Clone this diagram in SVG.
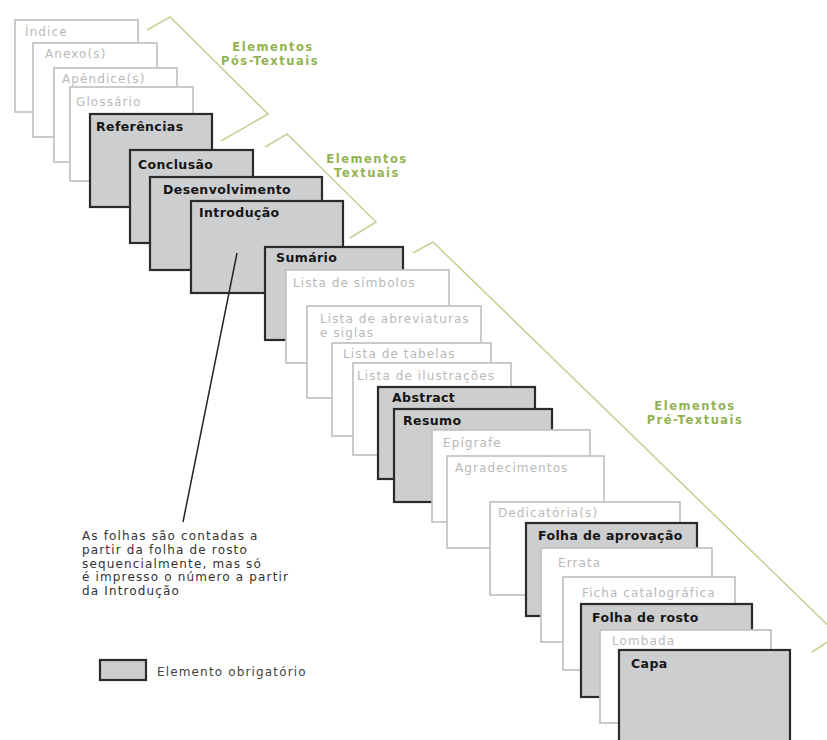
<svg xmlns="http://www.w3.org/2000/svg" width="827" height="740" viewBox="0 0 827 740">
<style>
.w rect{fill:#ffffff;stroke:#c2c2c2;stroke-width:1.7}
.g rect{fill:#cdcecf;stroke:#2b2b2b;stroke-width:2.2}
.w text{font-family:"DejaVu Sans",sans-serif;font-size:12px;letter-spacing:1.1px;fill:#b9b9b9}
.g text{font-family:"DejaVu Sans",sans-serif;font-size:12.5px;font-weight:bold;letter-spacing:0.4px;fill:#151515}
.br{fill:none;stroke:#c3d398;stroke-width:1.6}
.gl{font-family:"DejaVu Sans",sans-serif;font-size:11.5px;font-weight:bold;letter-spacing:1.5px;fill:#92b352;text-anchor:middle}
.note{font-family:"DejaVu Sans",sans-serif;font-size:12px;letter-spacing:1.15px;fill:#333333}
</style>
<rect width="827" height="740" fill="#ffffff"/>
<g id="brackets">
<polyline class="br" points="147,30 170,17 268,114 221,141"/>
<polyline class="br" points="265,147 287,134 376,222 350,238"/>
<polyline class="br" points="413,253 433,242 838,635 812,652"/>
<text class="gl" x="273" y="51">Elementos</text>
<text class="gl" x="270" y="65">Pós-Textuais</text>
<text class="gl" x="367" y="163">Elementos</text>
<text class="gl" x="367" y="177">Textuais</text>
<text class="gl" x="695" y="410">Elementos</text>
<text class="gl" x="695" y="424">Pré-Textuais</text>
</g>
<g id="indice" class="w"><rect x="15" y="20" width="123" height="92"/><text x="25" y="35.5">Índice</text></g>
<g id="anexos" class="w"><rect x="33" y="43" width="124" height="94"/><text x="45" y="57.5">Anexo(s)</text></g>
<g id="apendices" class="w"><rect x="54" y="68" width="123" height="94"/><text x="62" y="82.5">Apêndice(s)</text></g>
<g id="glossario" class="w"><rect x="70" y="87" width="123" height="94"/><text x="76" y="105.5">Glossário</text></g>
<g id="referencias" class="g"><rect x="90" y="114" width="122" height="93"/><text x="96" y="130.5">Referências</text></g>
<g id="conclusao" class="g"><rect x="130" y="150" width="123" height="93"/><text x="138" y="168.5">Conclusão</text></g>
<g id="desenvolvimento" class="g"><rect x="150" y="177" width="172" height="93"/><text x="163" y="193.5">Desenvolvimento</text></g>
<g id="introducao" class="g"><rect x="191" y="201" width="152" height="92"/><text x="199" y="216.5">Introdução</text></g>
<g id="sumario" class="g"><rect x="265" y="247" width="138" height="93"/><text x="276" y="261.5">Sumário</text></g>
<g id="lista-simbolos" class="w"><rect x="286" y="270" width="163" height="93"/><text x="293" y="286.5">Lista de símbolos</text></g>
<g id="lista-abreviaturas" class="w"><rect x="307" y="306" width="174" height="92"/><text x="320" y="322.5">Lista de abreviaturas</text><text x="320" y="336.5">e siglas</text></g>
<g id="lista-tabelas" class="w"><rect x="332" y="343" width="159" height="93"/><text x="343" y="357.5">Lista de tabelas</text></g>
<g id="lista-ilustracoes" class="w"><rect x="353" y="363" width="158" height="92"/><text x="357" y="379.5">Lista de ilustrações</text></g>
<g id="abstract" class="g"><rect x="378" y="387" width="157" height="92"/><text x="392" y="401.5">Abstract</text></g>
<g id="resumo" class="g"><rect x="394" y="409" width="158" height="93"/><text x="403" y="424.5">Resumo</text></g>
<g id="epigrafe" class="w"><rect x="432" y="430" width="158" height="92"/><text x="443" y="446.5">Epígrafe</text></g>
<g id="agradecimentos" class="w"><rect x="447" y="456" width="157" height="92"/><text x="455" y="471.5">Agradecimentos</text></g>
<g id="dedicatorias" class="w"><rect x="490" y="502" width="190" height="93"/><text x="498" y="516.5">Dedicatória(s)</text></g>
<g id="folha-aprovacao" class="g"><rect x="526" y="523" width="171" height="93"/><text x="538" y="539.5">Folha de aprovação</text></g>
<g id="errata" class="w"><rect x="541" y="548" width="171" height="94"/><text x="558" y="566.5">Errata</text></g>
<g id="ficha-catalografica" class="w"><rect x="563" y="577" width="172" height="93"/><text x="582" y="596.5">Ficha catalográfica</text></g>
<g id="folha-rosto" class="g"><rect x="581" y="604" width="171" height="93"/><text x="592" y="621.5">Folha de rosto</text></g>
<g id="lombada" class="w"><rect x="600" y="630" width="171" height="93"/><text x="612" y="644.5">Lombada</text></g>
<g id="capa" class="g"><rect x="619" y="650" width="171" height="100"/><text x="631" y="667.5">Capa</text></g>
<g id="connectors">
<line x1="237" y1="253" x2="183" y2="522" stroke="#222222" stroke-width="1.5"/>
</g>
<g id="nota">
<text class="note" x="82" y="540">As folhas são contadas a</text>
<text class="note" x="82" y="554">partir da folha de rosto</text>
<text class="note" x="82" y="568">sequencialmente, mas só</text>
<text class="note" x="82" y="581">é impresso o número a partir</text>
<text class="note" x="82" y="595">da Introdução</text>
</g>
<g id="legenda" class="g">
<rect x="100" y="660" width="46" height="20"/>
<text class="note" x="157" y="676" style="font-weight:normal;fill:#444444;font-size:12px;letter-spacing:1.15px">Elemento obrigatório</text>
</g>
</svg>
